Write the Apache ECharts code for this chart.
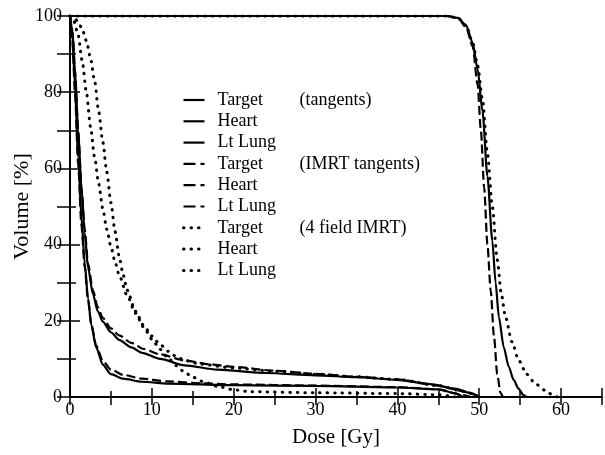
<!DOCTYPE html>
<html>
<head>
    <meta charset="utf-8">
    <title>DVH</title>
    <script src="https://cdn.jsdelivr.net/npm/echarts@6/dist/echarts.min.js"></script>
    <style>
        html, body { margin: 0; padding: 0; background: #fff; }
        #chart { width: 605px; height: 455px; }
    </style>
</head>
<body>
<div id="chart"></div>
<script type="text/javascript">
    // [dose Gy, volume %]
    const targetTangents = [[0, 100], [46, 100], [47.4, 99.5], [48.4, 97.5], [49.2, 93], [49.8, 86], [50.4, 75], [51, 58], [51.6, 41], [52, 30], [52.4, 21], [53, 13], [53.6, 8], [54.2, 4.5], [54.8, 2.2], [55.4, 0.5], [55.8, 0]];
    const heartTangents = [[0, 100], [0.3, 94], [0.6, 82], [1, 63], [1.4, 47], [1.8, 35], [2.2, 26], [2.6, 19], [3.2, 13], [4, 8.5], [5, 6], [6.5, 4.8], [8.8, 4], [12, 3.5], [20, 3.1], [30, 2.9], [40, 2.5], [45, 2], [47, 1], [48, 0]];
    const lungTangents = [[0, 100], [0.3, 96], [0.6, 86], [1, 70], [1.4, 55], [1.8, 43], [2.2, 34], [2.8, 27], [3.4, 22.5], [4, 19.8], [5, 17], [6, 15], [7.5, 13], [8.8, 11.6], [11, 10], [14, 8.3], [18, 7.2], [24, 6.3], [30, 5.7], [35, 5.2], [40, 4.5], [44, 3.4], [47, 2.2], [49, 1], [50, 0]];

    const targetImrtTan = [[0, 100], [46, 100], [47.4, 99.5], [48.4, 97], [49.2, 92], [49.8, 82], [50.2, 70], [50.6, 55], [51, 40], [51.4, 28], [51.8, 16], [52.2, 6], [52.6, 1], [52.9, 0]];
    const heartImrtTan = [[0, 100], [0.3, 93], [0.6, 80], [1, 61], [1.4, 45], [1.8, 34], [2.2, 25.5], [2.6, 19], [3.2, 13.5], [4, 9.5], [5, 7.2], [6.5, 5.8], [8.8, 4.8], [12, 4.1], [16, 3.6], [20, 3.3], [30, 3], [40, 2.6], [45, 2], [48, 0.5], [49, 0]];
    const lungImrtTan = [[0, 100], [0.3, 96], [0.6, 86], [1, 70], [1.4, 55], [1.8, 44], [2.2, 35], [2.8, 28], [3.4, 23.5], [4, 20.8], [5, 18], [6, 16.2], [7.5, 14.2], [9, 12.6], [11, 11.2], [14, 9.6], [17, 8.6], [20, 7.9], [25, 6.9], [30, 6.1], [35, 5.3], [40, 4.6], [45, 3], [48, 1.5], [50, 0]];

    const target4Field = [[0, 100], [46, 100], [47.4, 99.5], [48.4, 97.5], [49.2, 93], [49.8, 87], [50.4, 78], [51, 64], [51.6, 50], [52.2, 36], [52.7, 27], [53.2, 21], [54, 14.5], [54.8, 9.7], [55.8, 6], [56.8, 3.6], [58, 1.8], [59, 0.5], [59.5, 0]];
    const heart4Field = [[0, 100], [0.5, 98.5], [1, 95], [1.5, 88], [2, 80], [2.5, 71], [3, 63], [3.5, 56], [4, 49.5], [4.5, 44], [5, 39.5], [5.5, 35.5], [6, 32], [7, 26.5], [8, 22], [9, 18.3], [10, 15.2], [11, 12.5], [12, 10.2], [13, 8.2], [14, 6.5], [15, 5.2], [16.5, 3.8], [18, 2.8], [20, 1.9], [22, 1.4], [30, 1.1], [40, 0.9], [45, 0.6], [47, 0]];
    const lung4Field = [[0, 100], [0.5, 99.5], [1, 98.5], [1.5, 96.5], [2, 93.5], [2.5, 89], [3, 83], [3.5, 75], [4, 67], [4.5, 59], [5, 51], [5.5, 43.5], [6, 37], [6.5, 32], [7, 28], [8, 22.5], [9, 18.8], [10, 16], [11, 13.8], [12, 12], [13, 10.6], [14, 9.6], [16, 8.6], [20, 7.6], [25, 6.8], [30, 6], [35, 5.3], [40, 4.6], [45, 3], [48, 1.5], [50, 0]];

    const xTicks = [0, 10, 20, 30, 40, 50, 60];
    const yTicks = [0, 20, 40, 60, 80, 100];

    const serif = 'Liberation Serif';
    const solid = 'solid';
    const dashed = [9, 4];
    const dotted = [0.5, 7];

    const curves = [
        {id: 'tanTarget', label: 'Target', group: '(tangents)', data: targetTangents, type: solid},
        {id: 'tanHeart', label: 'Heart', group: '', data: heartTangents, type: solid},
        {id: 'tanLung', label: 'Lt Lung', group: '', data: lungTangents, type: solid},
        {id: 'imrtTarget', label: 'Target', group: '(IMRT tangents)', data: targetImrtTan, type: dashed},
        {id: 'imrtHeart', label: 'Heart', group: '', data: heartImrtTan, type: dashed},
        {id: 'imrtLung', label: 'Lt Lung', group: '', data: lungImrtTan, type: dashed},
        {id: 'fourTarget', label: 'Target', group: '(4 field IMRT)', data: target4Field, type: dotted},
        {id: 'fourHeart', label: 'Heart', group: '', data: heart4Field, type: dotted},
        {id: 'fourLung', label: 'Lt Lung', group: '', data: lung4Field, type: dotted}
    ];

    // legend samples: "—", "— ·", "· · ·"
    function legendDash(type) {
        if (type === dashed) return [12, 5];
        return type;
    }

    const chart = echarts.init(document.getElementById('chart'));

    const axisLine = {show: true, lineStyle: {color: '#000', width: 2}};

    const option = {
        animation: false,
        backgroundColor: '#fff',
        grid: {left: 70, top: 16, right: -7, bottom: 58},
        legend: {
            orient: 'vertical',
            left: 182,
            top: 91,
            padding: 0,
            itemWidth: 21,
            itemHeight: 10,
            itemGap: 3.3,
            itemStyle: {opacity: 0},
            data: curves.map(c => ({
                name: c.id,
                lineStyle: {type: legendDash(c.type), width: c.type === dotted ? 3 : 2.2}
            })),
            formatter: function (name) {
                const c = curves.find(k => k.id === name);
                return '{a|' + c.label + '}' + (c.group ? '{b|' + c.group + '}' : '');
            },
            textStyle: {
                fontFamily: serif,
                fontSize: 18,
                color: '#000',
                rich: {
                    a: {fontFamily: serif, fontSize: 18, color: '#000', width: 82, lineHeight: 18, padding: [0, 0, 0, 8]},
                    b: {fontFamily: serif, fontSize: 18, color: '#000', lineHeight: 18}
                }
            },
            selectedMode: false
        },
        xAxis: [
            {
                type: 'value',
                min: 0,
                max: 65,
                interval: 10,
                name: 'Dose [Gy]',
                nameLocation: 'middle',
                nameGap: 30,
                nameMoveOverlap: false,
                nameTextStyle: {fontFamily: serif, fontSize: 21, color: '#000'},
                axisLine: axisLine,
                axisTick: {show: true, inside: true, length: 9, lineStyle: {color: '#000', width: 1.5}},
                minorTick: {show: true, splitNumber: 2, length: 6, lineStyle: {color: '#000', width: 1.5}},
                splitLine: {show: false},
                axisLabel: {
                    fontFamily: serif, fontSize: 18, color: '#000', margin: 4,
                    formatter: v => xTicks.indexOf(v) >= 0 ? String(v) : ''
                }
            },
            {
                type: 'value',
                position: 'top',
                min: 0,
                max: 65,
                interval: 5,
                axisLine: axisLine,
                axisTick: {show: true, inside: true, length: 8, lineStyle: {color: '#000', width: 1.5}},
                splitLine: {show: false},
                axisLabel: {show: false}
            }
        ],
        yAxis: [
            {
                type: 'value',
                min: 0,
                max: 100,
                interval: 20,
                name: 'Volume [%]',
                nameLocation: 'middle',
                nameGap: 37,
                nameMoveOverlap: false,
                nameTextStyle: {fontFamily: serif, fontSize: 22, color: '#000'},
                axisLine: axisLine,
                axisTick: {show: true, inside: true, length: 10, lineStyle: {color: '#000', width: 1.5}},
                minorTick: {show: true, splitNumber: 2, length: 6, lineStyle: {color: '#000', width: 1.5}},
                splitLine: {show: false},
                axisLabel: {
                    fontFamily: serif, fontSize: 18, color: '#000', margin: 8,
                    formatter: v => yTicks.indexOf(v) >= 0 ? String(v) : ''
                }
            },
            {
                type: 'value',
                position: 'right',
                min: 0,
                max: 100,
                interval: 10,
                axisLine: axisLine,
                axisTick: {show: true, inside: true, length: 13, lineStyle: {color: '#000', width: 1.5}},
                splitLine: {show: false},
                axisLabel: {show: false}
            }
        ],
        series: curves.map(c => ({
            name: c.id,
            type: 'line',
            data: c.data,
            showSymbol: false,
            symbol: 'none',
            smooth: 0.25,
            smoothMonotone: 'x',
            color: '#000',
            lineStyle: {
                color: '#000',
                width: c.type === dotted ? 3 : 2.2,
                type: c.type,
                cap: c.type === dotted ? 'round' : 'butt'
            }
        }))
    };
    chart.setOption(option);
</script>
</body>
</html>
